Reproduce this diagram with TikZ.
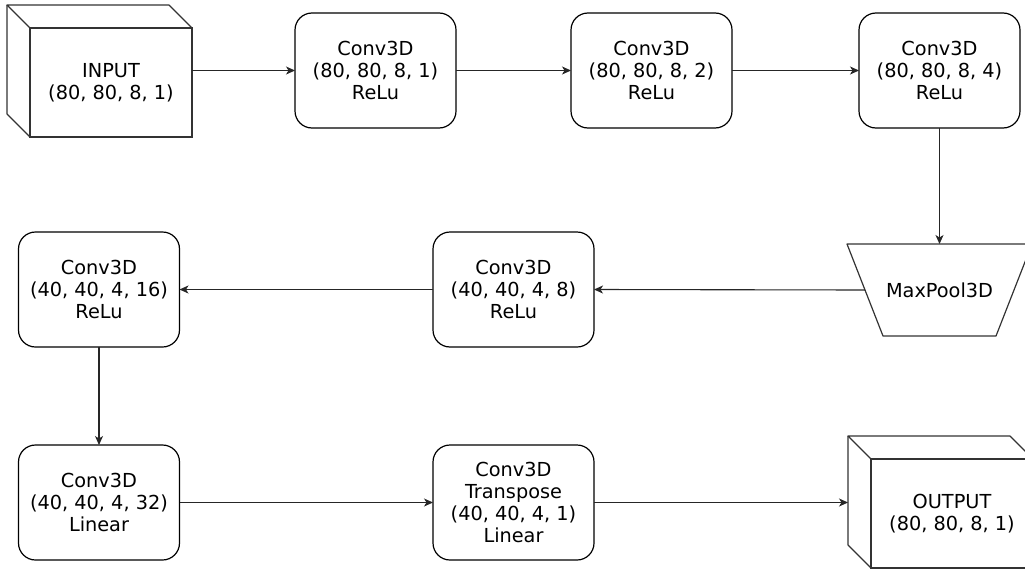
\documentclass[tikz,border=0pt]{standalone}
\usepackage{fontspec}
\setmainfont{DejaVu Sans}
\usetikzlibrary{arrows.meta}

% back edges of a cube, drawn from the front face node
\newcommand{\cubeback}[1]{%
    \draw[cubeline] (#1.north west) -- ++(-23,-23) -- ([shift={(-23,-23)}]#1.north east) -- (#1.north east);
    \draw[cubeline] ([shift={(-23,-23)}]#1.north west) -- ([shift={(-23,-23)}]#1.south west) -- (#1.south west);
}

\begin{document}
\begin{tikzpicture}[x=1pt,y=-1pt,
    font=\fontsize{19.3}{21.8}\selectfont,
    layer/.style={draw,rounded corners=17pt,line width=1.2pt,align=center,
        minimum width=161,minimum height=115,inner sep=0pt,outer sep=0pt},
    cube/.style={draw=black!80,line width=1.2pt,align=center,
        minimum width=162,minimum height=109,inner sep=0pt,outer sep=0pt},
    cubeline/.style={draw=black!80,line width=1.2pt,line join=round},
    arr/.style={draw=black!85,line width=1.1pt,-{Stealth[length=9pt,width=8pt,inset=2.5pt]}}]
    \useasboundingbox (0,0) rectangle (1025,570);

    % first row
    \node[cube] (input) at (111,82.5) {INPUT\\(80, 80, 8, 1)};
    \cubeback{input}
    \node[layer] (c1) at (375.5,70.5) {Conv3D\\(80, 80, 8, 1)\\ReLu};
    \node[layer] (c2) at (651.5,70.5) {Conv3D\\(80, 80, 8, 2)\\ReLu};
    \node[layer] (c3) at (939.5,70.5) {Conv3D\\(80, 80, 8, 4)\\ReLu};

    % second row
    \draw[cubeline] (847,244) coordinate (mptop) -- (1032,244) -- (996,336) -- (883,336) -- cycle;
    \coordinate (mpleft) at (865,290);
    \node (mp) at (939.5,290) {MaxPool3D};
    \node[layer] (c4) at (513.5,289.5) {Conv3D\\(40, 40, 4, 8)\\ReLu};
    \node[layer] (c5) at (99,289.5) {Conv3D\\(40, 40, 4, 16)\\ReLu};

    % third row
    \node[layer] (c6) at (99,502.5) {Conv3D\\(40, 40, 4, 32)\\Linear};
    \node[layer] (c7) at (513.5,502.5) {Conv3D\\Transpose\\(40, 40, 4, 1)\\Linear};
    \node[cube] (output) at (952,513.5) {OUTPUT\\(80, 80, 8, 1)};
    \cubeback{output}
    \coordinate (outback) at ([shift={(-23,-23)}]output.north west);

    \draw[arr] (input.east |- c1.west) -- (c1.west);
    \draw[arr] (c1) -- (c2);
    \draw[arr] (c2) -- (c3);
    \draw[arr] (c3.south) -- (c3.south |- mptop);
    \draw[arr] (mpleft) -- (c4.east);
    \draw[arr] (c4) -- (c5);
    \draw[arr] (c5) -- (c6);
    \draw[arr] (c6) -- (c7);
    \draw[arr] (c7.east) -- (c7.east -| outback);
\end{tikzpicture}
\end{document}
